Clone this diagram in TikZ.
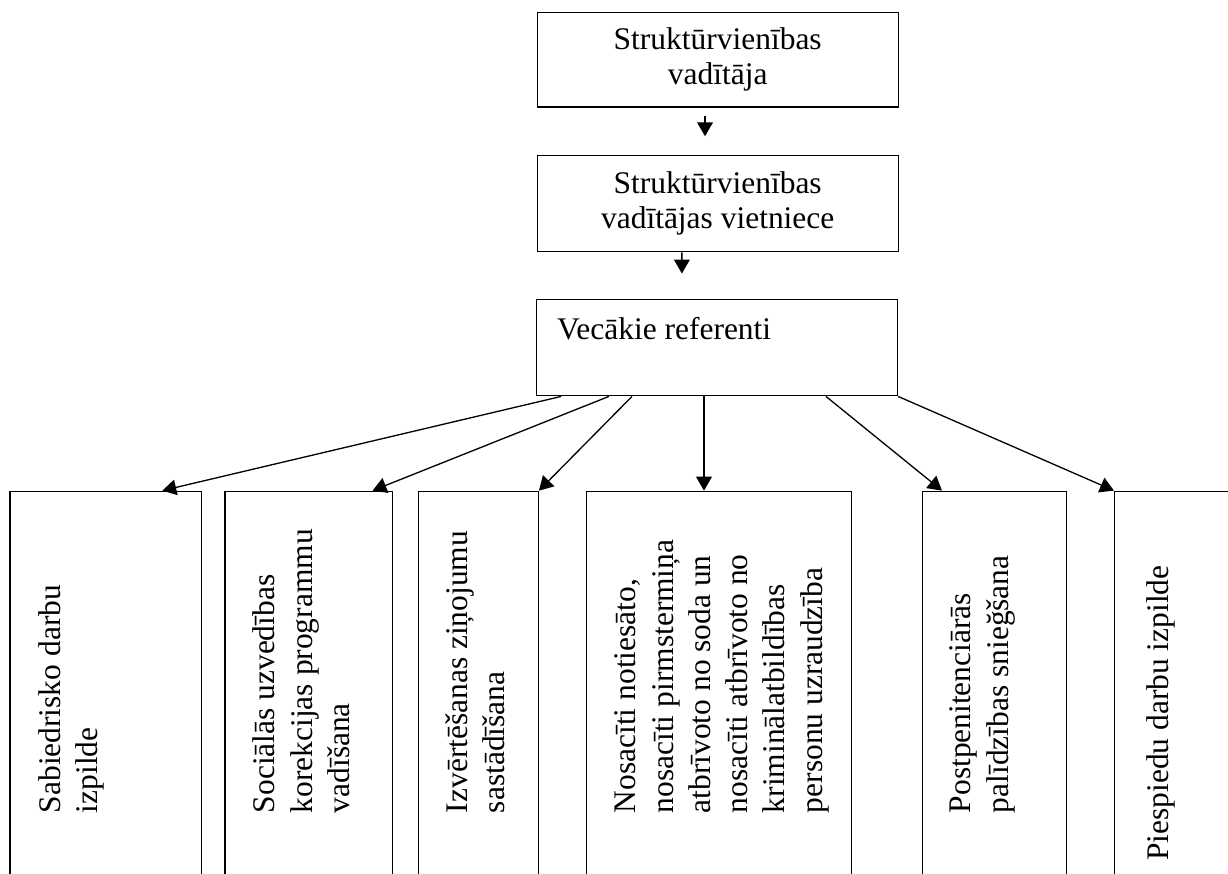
\documentclass[tikz,border=0pt]{standalone}
\usepackage{fontspec}
\setmainfont{Liberation Serif}
\usetikzlibrary{arrows.meta}

\begin{document}
\begin{tikzpicture}
    \tikzstyle{box} = [draw, line width=0.5pt, inner sep=0pt]
    \tikzstyle{boss} = [box, minimum width=4.84cm, align=center, font=\fontsize{12pt}{13.3pt}\selectfont]
    \tikzstyle{duty} = [box, minimum height=5.47cm]
    \tikzstyle{vtext} = [rotate=90, anchor=north west, align=left, inner sep=0pt, font=\fontsize{12pt}{14.2pt}\selectfont, execute at begin node=\strut]
    \tikzstyle{link} = [line width=0.5pt, -{Triangle[length=5.3pt, width=6pt]}]
    \useasboundingbox (0, 0) rectangle (16.46, 11.71);
    % management
    \node[boss, minimum height=1.27cm] (head) at (9.62, 10.91) {Struktūrvienības\\vadītāja};
    \node[boss, minimum height=1.29cm] (deputy) at (9.62, 8.98) {Struktūrvienības\\vadītājas vietniece};
    \node[boss, minimum height=1.29cm] (seniors) at (9.61, 7.05) {};
    \node[anchor=base west, inner sep=0pt, font=\fontsize{12pt}{13.3pt}\selectfont] (seniors-txt) at ([shift={(0.28,-0.54)}]seniors.north west) {Vecākie referenti};
    \draw[link] ([shift={(-0.17,-0.11)}]head.south) -- ([shift={(-0.17,0.25)}]deputy.north);
    \draw[link] ([xshift=-0.48cm]deputy.south) -- ([shift={(-0.47,0.34)}]seniors.north);
    % duties
    \node[duty, minimum width=2.57cm] (public) at (1.42, 2.39) {};
    \node[duty, minimum width=2.25cm] (social) at (4.14, 2.39) {};
    \node[duty, minimum width=1.61cm] (report) at (6.41, 2.39) {};
    \node[duty, minimum width=3.55cm] (supervise) at (9.64, 2.39) {};
    \node[duty, minimum width=1.93cm] (aftercare) at (13.33, 2.39) {};
    \node[duty, minimum width=1.68cm] (forced) at (15.78, 2.39) {};
    \node[vtext] (public-txt) at ([shift={(0.38,-4.33)}]public.north west) {Sabiedrisko darbu\\izpilde};
    \node[vtext] (social-txt) at ([shift={(0.38,-4.33)}]social.north west) {Sociālās uzvedības\\korekcijas programmu\\vadīšana};
    \node[vtext] (report-txt) at ([shift={(0.37,-4.33)}]report.north west) {Izvērtēšanas ziņojumu\\sastādīšana};
    \node[vtext] (supervise-txt) at ([shift={(0.38,-4.33)}]supervise.north west) {Nosacīti notiesāto,\\nosacīti pirmstermiņa\\atbrīvoto no soda un\\nosacīti atbrīvoto no\\kriminālatbildības\\personu uzraudzība};
    \node[vtext] (aftercare-txt) at ([shift={(0.37,-4.33)}]aftercare.north west) {Postpenitenciārās\\palīdzības snieğšana};
    \node[vtext] (forced-txt) at ([shift={(0.38,-4.97)}]forced.north west) {Piespiedu darbu izpilde};
    \draw[link] ([xshift=0.34cm]seniors.south west) -- ([xshift=2.05cm]public.north west);
    \draw[link] ([xshift=0.98cm]seniors.south west) -- ([xshift=-0.28cm]social.north east);
    \draw[link] ([xshift=1.29cm]seniors.south west) -- (report.north east);
    \coordinate (supervise-in) at ([xshift=1.58cm]supervise.north west);
    \draw[link] (seniors.south -| supervise-in) -- (supervise-in);
    \draw[link] ([xshift=3.89cm]seniors.south west) -- ([xshift=0.27cm]aftercare.north west);
    \draw[link] (seniors.south east) -- (forced.north west);
\end{tikzpicture}
\end{document}
